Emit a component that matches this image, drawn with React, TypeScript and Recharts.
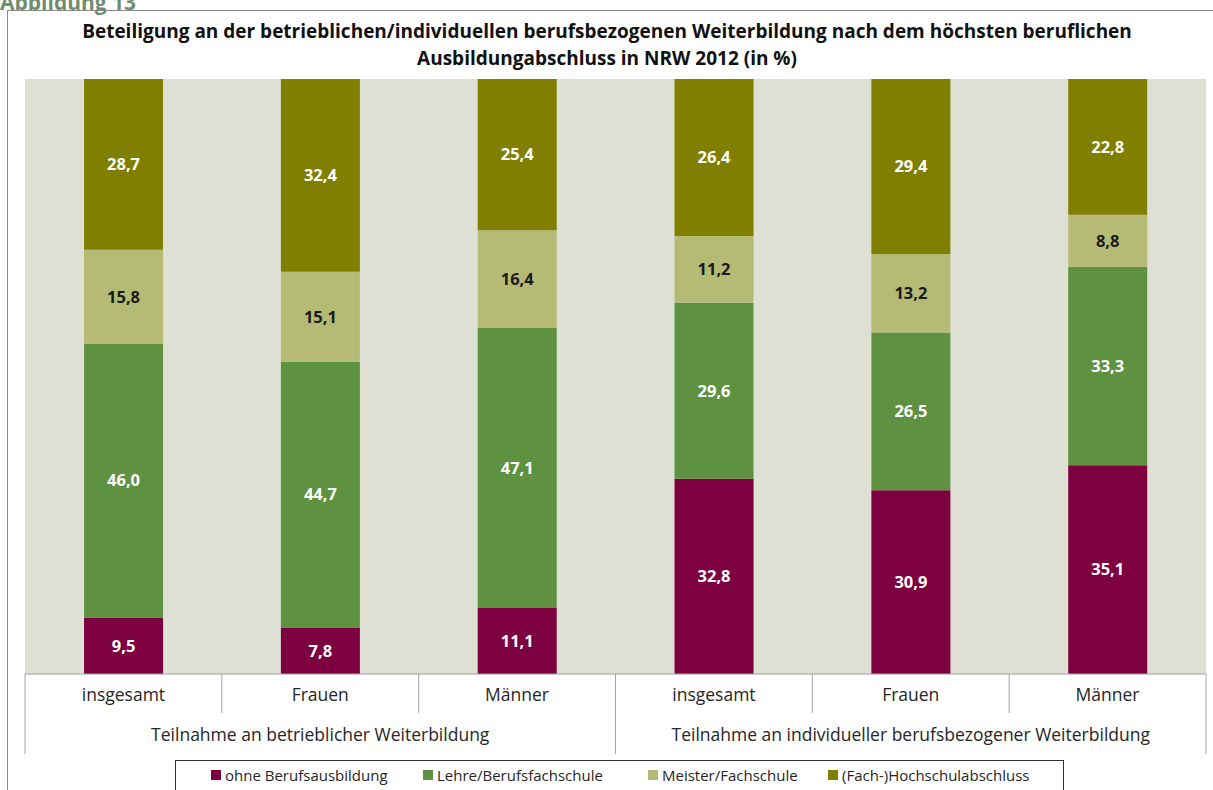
import React from 'react';
import { BarChart, Bar, XAxis, YAxis, CartesianGrid, LabelList } from 'recharts';

const categories = ['insgesamt', 'Frauen', 'Männer', 'insgesamt', 'Frauen', 'Männer'];
const groupLabels = ['Teilnahme an betrieblicher Weiterbildung', 'Teilnahme an individueller berufsbezogener Weiterbildung'];
const groupOfCategory = [0, 0, 0, 1, 1, 1];

const ohneBerufsausbildung = [9.5, 7.8, 11.1, 32.8, 30.9, 35.1];
const lehreBerufsfachschule = [46.0, 44.7, 47.1, 29.6, 26.5, 33.3];
const meisterFachschule = [15.8, 15.1, 16.4, 11.2, 13.2, 8.8];
const hochschulabschluss = [28.7, 32.4, 25.4, 26.4, 29.4, 22.8];

const seriesNames = ['ohne Berufsausbildung', 'Lehre/Berufsfachschule', 'Meister/Fachschule', '(Fach-)Hochschulabschluss'];
const seriesKeys = ['ohne', 'lehre', 'meister', 'hoch'];
const seriesColors = ['#7d0040', '#5e9241', '#b5bb74', '#807f00'];
const labelColors = ['#ffffff', '#ffffff', '#1a1a1a', '#ffffff'];
const legendItemWidths = [212, 225, 180, 230];

const title1 = 'Beteiligung an der betrieblichen/individuellen berufsbezogenen Weiterbildung nach dem höchsten beruflichen';
const title2 = 'Ausbildungabschluss  in NRW 2012 (in %)';

const data = categories.map((c, i) => ({
  cat: c + '_' + i,
  label: c,
  ohne: ohneBerufsausbildung[i],
  lehre: lehreBerufsfachschule[i],
  meister: meisterFachschule[i],
  hoch: hochschulabschluss[i],
}));

const W = 1213;
const H = 790;
const M = { top: 79, right: 7, bottom: 35, left: 25 };
const AXIS_H = 81;
const BAND = (W - M.left - M.right) / categories.length;
const FONT = '"Open Sans", sans-serif';
const SEP = '#a6a6a6';

const fmt = (v: any) => Number(v).toFixed(1).replace('.', ',');

function Tick(props: any) {
  const { x, y, index } = props;
  const i = index as number;
  const left = x - BAND / 2;
  const right = x + BAND / 2;
  const isGroupStart = i === 0 || groupOfCategory[i] !== groupOfCategory[i - 1];
  const isLast = i === categories.length - 1;
  const groupMid = (() => {
    const g = groupOfCategory[i];
    const idx = groupOfCategory.map((gg, k) => (gg === g ? k : -1)).filter((k) => k >= 0);
    return idx[Math.floor(idx.length / 2)] === i;
  })();
  return (
    <g>
      <line x1={left} x2={left} y1={y} y2={y + (isGroupStart ? 80 : 39)} stroke={SEP} strokeWidth={1} />
      {isLast && <line x1={right} x2={right} y1={y} y2={y + 80} stroke={SEP} strokeWidth={1} />}
      <text x={x} y={y + 27} textAnchor="middle" fontFamily={FONT} fontSize={17.5} fill="#262626">
        {categories[i]}
      </text>
      {groupMid && (
        <text x={x} y={y + 67} textAnchor="middle" fontFamily={FONT} fontSize={17.5} fill="#262626">
          {groupLabels[groupOfCategory[i]]}
        </text>
      )}
    </g>
  );
}

export default function App() {
  return (
    <div style={{ position: 'absolute', left: 0, top: 0, width: W, height: H, background: '#fff', overflow: 'hidden' }}>
      <div
        style={{
          position: 'absolute', left: 0, top: -11, fontFamily: FONT, fontWeight: 700, fontSize: 21,
          color: '#6f8c6f', lineHeight: '26px', whiteSpace: 'nowrap',
        }}
      >
        Abbildung 13
      </div>
      <div style={{ position: 'absolute', left: 7, top: 10, width: W, height: H, border: '1px solid #8a8a8a', boxSizing: 'border-box' }} />
      <div style={{ position: 'absolute', left: 0, top: 0 }}>
        <BarChart width={W} height={H} data={data} margin={M} barCategoryGap="30%">
          <CartesianGrid horizontal={false} vertical={false} fill="#dfe0d4" stroke="none" />
          <text x={607} y={38} textAnchor="middle" fontFamily={FONT} fontWeight={700} fontSize={19} fill="#111">
            {title1}
          </text>
          <text x={607} y={65} textAnchor="middle" fontFamily={FONT} fontWeight={700} fontSize={19} fill="#111">
            {title2}
          </text>
          <XAxis
            dataKey="cat"
            height={AXIS_H}
            tickLine={false}
            tickSize={0}
            tickMargin={0}
            axisLine={{ stroke: '#a0a0a0' }}
            interval={0}
            tick={<Tick />}
          />
          <YAxis hide domain={[0, 100]} />
          {seriesKeys.map((k, si) => (
            <Bar key={k} dataKey={k} stackId="a" fill={seriesColors[si]} isAnimationActive={false}>
              <LabelList
                dataKey={k}
                position="center"
                formatter={fmt}
                fill={labelColors[si]}
                fontFamily={FONT}
                fontWeight={700}
                fontSize={16.5}
              />
            </Bar>
          ))}
        </BarChart>
      </div>
      <div
        style={{
          position: 'absolute', left: 175, top: 760, width: 889, height: 40, border: '1px solid #333',
          boxSizing: 'border-box', display: 'flex', alignItems: 'flex-start', paddingLeft: 35, paddingTop: 4,
          fontFamily: FONT, fontSize: 15, color: '#262626', background: '#fff',
        }}
      >
        {seriesNames.map((n, si) => (
          <div key={n} style={{ display: 'flex', alignItems: 'center', width: legendItemWidths[si], flex: 'none', whiteSpace: 'nowrap' }}>
            <span style={{ display: 'inline-block', width: 10, height: 10, background: seriesColors[si], marginRight: 4 }} />
            <span>{n}</span>
          </div>
        ))}
      </div>
    </div>
  );
}
